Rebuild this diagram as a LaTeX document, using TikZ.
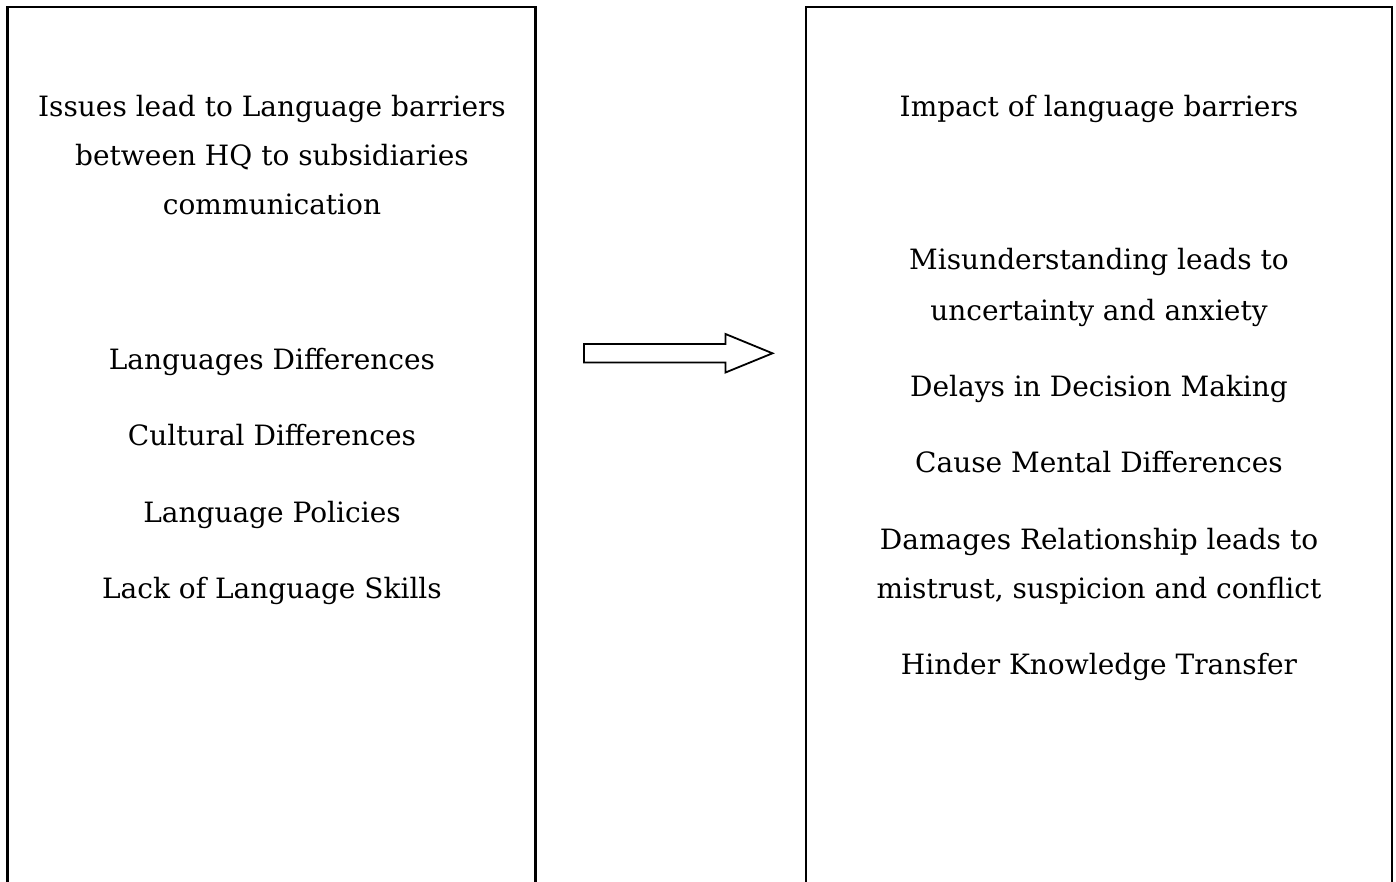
\documentclass[tikz,border=0pt]{standalone}
\usepackage{fontspec}
\setmainfont{DejaVu Serif}
\begin{document}
\begin{tikzpicture}[x=1pt,y=-1pt,
  panel/.style={draw=black,line width=2.2pt},
  txt/.style={anchor=base,inner sep=0pt,font=\fontsize{28}{34}\selectfont},
  blockarrow/.style={draw=black,line width=1.8pt,fill=white,line join=miter}]
\useasboundingbox (0,0) rectangle (1396,882);
\begin{scope}
\clip (0,0) rectangle (1396,882);
% the two panels run past the lower edge
\draw[panel] (7.5,7) rectangle (535.5,900);
\draw[panel] (806,7) rectangle (1392,900);
\end{scope}

% left panel: causes
\node[txt] (l1) at (272,117) {Issues lead to Language barriers};
\node[txt] (l2) at (272,166) {between HQ to subsidiaries};
\node[txt] (l3) at (272,215) {communication};
\node[txt] (a1) at (272,369) {Languages Differences};
\node[txt] (a2) at (272,445) {Cultural Differences};
\node[txt] (a3) at (272,522) {Language Policies};
\node[txt] (a4) at (272,598) {Lack of Language Skills};

% right panel: effects
\node[txt] (r1) at (1099,117) {Impact of language barriers};
\node[txt] (b1) at (1099,270) {Misunderstanding leads to};
\node[txt] (b1b) at (1099,320) {uncertainty and anxiety};
\node[txt] (b2) at (1099,396) {Delays in Decision Making};
\node[txt] (b3) at (1099,472) {Cause Mental Differences};
\node[txt] (b4) at (1099,549) {Damages Relationship leads to};
\node[txt] (b4b) at (1099,598) {mistrust, suspicion and conflict};
\node[txt] (b5) at (1099,674) {Hinder Knowledge Transfer};

% block arrow between the panels
\draw[blockarrow] (584,344) -- (725.5,344) -- (725.5,334) -- (772.5,353.3)
  -- (725.5,372.5) -- (725.5,362.5) -- (584,362.5) -- cycle;
\end{tikzpicture}
\end{document}
